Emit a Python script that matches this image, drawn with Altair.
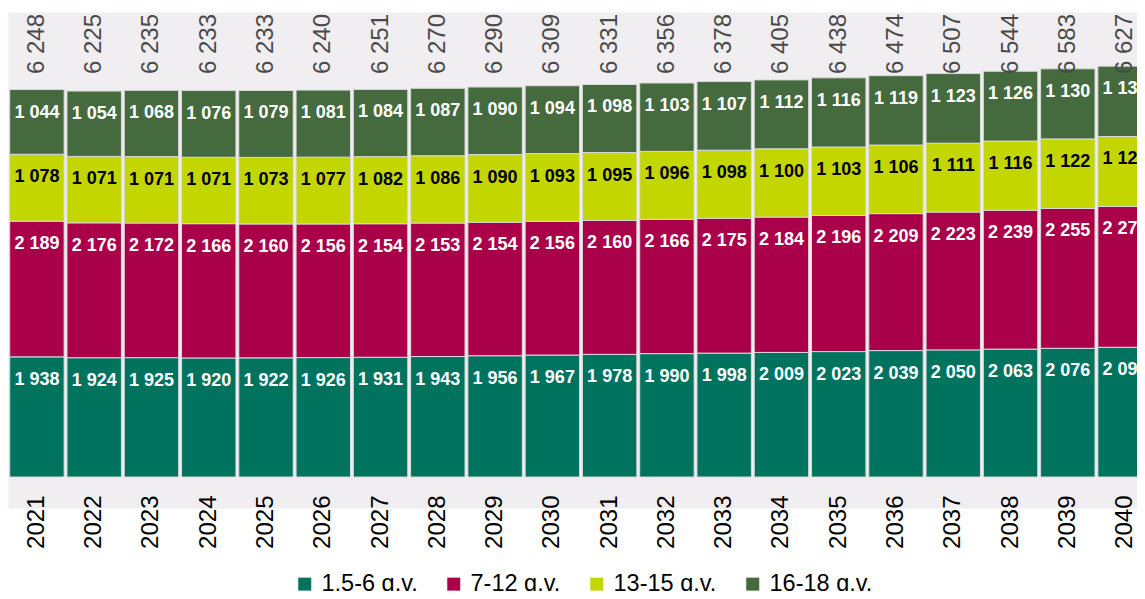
import altair as alt
import pandas as pd

F = "Liberation Sans"

years = [str(y) for y in range(2021, 2041)]
g1 = [1938, 1924, 1925, 1920, 1922, 1926, 1931, 1943, 1956, 1967,
      1978, 1990, 1998, 2009, 2023, 2039, 2050, 2063, 2076, 2092]
g2 = [2189, 2176, 2172, 2166, 2160, 2156, 2154, 2153, 2154, 2156,
      2160, 2166, 2175, 2184, 2196, 2209, 2223, 2239, 2255, 2271]
g3 = [1078, 1071, 1071, 1071, 1073, 1077, 1082, 1086, 1090, 1093,
      1095, 1096, 1098, 1100, 1103, 1106, 1111, 1116, 1122, 1129]
g4 = [1044, 1054, 1068, 1076, 1079, 1081, 1084, 1087, 1090, 1094,
      1098, 1103, 1107, 1112, 1116, 1119, 1123, 1126, 1130, 1135]
totals = [6248, 6225, 6235, 6233, 6233, 6240, 6251, 6270, 6290, 6309,
          6331, 6356, 6378, 6405, 6438, 6474, 6507, 6544, 6583, 6627]

series = ["1,5-6 g.v.", "7-12 g.v.", "13-15 g.v.", "16-18 g.v."]
colors = ["#00735f", "#aa004a", "#c4d600", "#446a3e"]


def fmt(v):
    return f"{v:,}".replace(",", " ")


rows = []
for i, yr in enumerate(years):
    for k, (name, vals) in enumerate(zip(series, [g1, g2, g3, g4])):
        rows.append({"year": yr, "group": name, "ord": k,
                     "value": vals[i], "label": fmt(vals[i])})
df = pd.DataFrame(rows)
tot = pd.DataFrame({"year": years, "total": totals,
                    "label": [fmt(t) for t in totals]})

xscale = alt.Scale(domain=years, range=[0, 1146],
                   paddingInner=0.05, paddingOuter=0.03)
xaxis = alt.Axis(title=None, labelAngle=270, labelFontSize=24, labelFont=F,
                 labelColor="black", ticks=False, domain=False, offset=-13,
                 labelPadding=0, labelOverlap=False)
x = alt.X("year:N", scale=xscale, axis=xaxis)
yscale = alt.Scale(domain=[-500, 7500], nice=False, zero=False)

base = alt.Chart(df).transform_stack(
    stack="value", groupby=["year"], sort=[alt.SortField("ord")],
    as_=["y0", "y1"])

bars = base.mark_bar(clip=True, stroke="#d9d9d9", strokeWidth=1).encode(
    x=x,
    y=alt.Y("y0:Q", scale=yscale, axis=None),
    y2="y1:Q",
    color=alt.Color("group:N", scale=alt.Scale(domain=series, range=colors),
                    legend=alt.Legend(title=None, orient="none", legendX=285,
                                      legendY=560, direction="horizontal",
                                      symbolType="square", symbolSize=169,
                                      symbolStrokeWidth=0,
                                      labelFontSize=23.5, labelFont=F,
                                      labelColor="black", columnPadding=24,
                                      labelOffset=5)),
)

labels = base.mark_text(clip=True, dy=23, fontSize=18, fontWeight="bold",
                        font=F, baseline="middle").encode(
    x=x,
    y=alt.Y("y1:Q", scale=yscale, axis=None),
    text="label:N",
    color=alt.condition(alt.datum.group == "13-15 g.v.",
                        alt.value("black"), alt.value("white")),
)

tots = alt.Chart(tot).mark_text(clip=True, angle=270, align="left",
                                baseline="middle", fontSize=24,
                                color="#4a4a4a", font=F).encode(
    x=x,
    y=alt.value(62),
    text="label:N",
)

chart = alt.layer(bars, labels, tots).properties(
    width=1129, height=496,
    autosize=alt.AutoSizeParams(type="none"),
    padding={"left": 0, "top": 4, "right": 0, "bottom": 83},
).configure_view(fill="#f0eef0", stroke="transparent")

chart.save("out.html", embed_options={"renderer": "svg", "actions": False})
